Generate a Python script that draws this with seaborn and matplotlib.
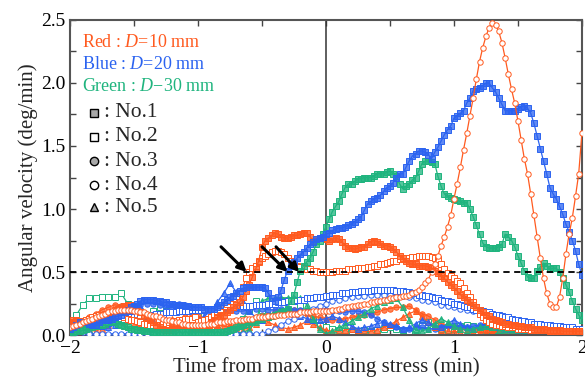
import numpy as np
import matplotlib
matplotlib.use("Agg")
import matplotlib.pyplot as plt
import seaborn as sns

sns.set_style("ticks")
plt.rcParams['font.family'] = ['Liberation Serif', 'DejaVu Serif']
plt.rcParams['mathtext.fontset'] = 'custom'
plt.rcParams['mathtext.rm'] = 'Liberation Serif'
plt.rcParams['mathtext.it'] = 'Liberation Serif:italic'
plt.rcParams['xtick.direction'] = 'in'
plt.rcParams['ytick.direction'] = 'in'

# time axis (min); fine grid for the tall curves, coarse grid for the low ones
t_fine = np.linspace(-2, 2, 161)
t_coarse = np.linspace(-2, 2, 81)

# ---- D = 10 mm (red) ----
red_no1 = [0.10, 0.12, 0.12, 0.11, 0.10, 0.09, 0.08, 0.08, 0.09, 0.10, 0.12, 0.14, 0.16, 0.18, 0.20, 0.21, 0.22, 0.23, 0.24, 0.24,
           0.22, 0.20, 0.18, 0.16, 0.14, 0.12, 0.10, 0.08, 0.06, 0.05, 0.04, 0.04, 0.05, 0.06, 0.07, 0.08, 0.08, 0.08, 0.07, 0.06,
           0.05, 0.05, 0.06, 0.08, 0.10, 0.12, 0.14, 0.15, 0.16, 0.18, 0.20, 0.22, 0.24, 0.26, 0.30, 0.35, 0.40, 0.46, 0.52, 0.59,
           0.70, 0.75, 0.77, 0.79, 0.81, 0.80, 0.78, 0.77, 0.77, 0.78, 0.79, 0.79, 0.80, 0.81, 0.81, 0.78, 0.75, 0.76, 0.77, 0.77,
           0.76, 0.75, 0.76, 0.77, 0.76, 0.74, 0.71, 0.69, 0.69, 0.68, 0.69, 0.70, 0.70, 0.72, 0.74, 0.75, 0.74, 0.72, 0.71, 0.71,
           0.70, 0.68, 0.66, 0.63, 0.61, 0.59, 0.57, 0.56, 0.56, 0.55, 0.55, 0.55, 0.54, 0.53, 0.51, 0.49, 0.47, 0.45, 0.42, 0.40,
           0.38, 0.35, 0.32, 0.30, 0.28, 0.26, 0.24, 0.22, 0.20, 0.18, 0.16, 0.15, 0.13, 0.12, 0.11, 0.10, 0.09, 0.09, 0.08, 0.08,
           0.07, 0.07, 0.06, 0.06, 0.06, 0.05, 0.05, 0.05, 0.05, 0.04, 0.04, 0.04, 0.04, 0.04, 0.03, 0.03, 0.03, 0.03, 0.03, 0.03,
           0.03]
red_no2 = [0.08, 0.08, 0.09, 0.10, 0.11, 0.12, 0.13, 0.14, 0.15, 0.16, 0.16, 0.17, 0.17, 0.17, 0.16, 0.16, 0.15, 0.14, 0.13, 0.12,
           0.12, 0.11, 0.10, 0.09, 0.09, 0.08, 0.08, 0.08, 0.08, 0.09, 0.09, 0.10, 0.11, 0.11, 0.12, 0.12, 0.13, 0.13, 0.13, 0.14,
           0.10, 0.11, 0.12, 0.13, 0.14, 0.16, 0.18, 0.21, 0.23, 0.25, 0.27, 0.29, 0.31, 0.33, 0.38, 0.45, 0.50, 0.53, 0.55, 0.58,
           0.61, 0.63, 0.64, 0.66, 0.67, 0.67, 0.66, 0.64, 0.61, 0.59, 0.57, 0.55, 0.54, 0.53, 0.52, 0.52, 0.51, 0.51, 0.50, 0.50,
           0.50, 0.50, 0.50, 0.51, 0.51, 0.51, 0.51, 0.52, 0.52, 0.52, 0.53, 0.53, 0.53, 0.54, 0.54, 0.55, 0.55, 0.56, 0.56, 0.57,
           0.58, 0.59, 0.59, 0.60, 0.60, 0.61, 0.61, 0.62, 0.62, 0.63, 0.63, 0.63, 0.63, 0.62, 0.61, 0.60, 0.56, 0.52, 0.49, 0.47,
           0.45, 0.43, 0.41, 0.37, 0.33, 0.30, 0.26, 0.22, 0.17, 0.14, 0.12, 0.10, 0.09, 0.08, 0.08, 0.07, 0.07, 0.06, 0.06, 0.06,
           0.05, 0.05, 0.05, 0.05, 0.04, 0.04, 0.04, 0.04, 0.04, 0.04, 0.03, 0.03, 0.03, 0.03, 0.03, 0.03, 0.03, 0.03, 0.03, 0.03,
           0.03]
red_no3 = [0.05, 0.07, 0.10, 0.14, 0.17, 0.20, 0.22, 0.24, 0.23, 0.20,
           0.16, 0.12, 0.09, 0.07, 0.06, 0.07, 0.09, 0.12, 0.14, 0.15,
           0.15, 0.13, 0.10, 0.08, 0.07, 0.06, 0.06, 0.08, 0.10, 0.13,
           0.15, 0.16, 0.18, 0.19, 0.20, 0.20, 0.19, 0.17, 0.15, 0.14,
           0.13, 0.12, 0.12, 0.13, 0.14, 0.15, 0.16, 0.17, 0.18, 0.20,
           0.21, 0.22, 0.22, 0.23, 0.20, 0.17, 0.15, 0.12, 0.09, 0.07,
           0.06, 0.05, 0.05, 0.04, 0.04, 0.04, 0.03, 0.03, 0.03, 0.03,
           0.03, 0.03, 0.02, 0.02, 0.02, 0.02, 0.02, 0.02, 0.02, 0.02,
           0.02]
red_no4 = [0.06, 0.07, 0.08, 0.09, 0.10, 0.11, 0.12, 0.13, 0.14, 0.15, 0.16, 0.17, 0.18, 0.19, 0.19, 0.20, 0.20, 0.20, 0.20, 0.20,
           0.19, 0.19, 0.18, 0.18, 0.17, 0.16, 0.15, 0.15, 0.14, 0.13, 0.12, 0.12, 0.11, 0.10, 0.10, 0.09, 0.09, 0.08, 0.08, 0.08,
           0.08, 0.08, 0.08, 0.09, 0.09, 0.09, 0.10, 0.10, 0.10, 0.11, 0.11, 0.11, 0.12, 0.12, 0.12, 0.13, 0.13, 0.13, 0.14, 0.14,
           0.14, 0.14, 0.15, 0.15, 0.15, 0.16, 0.16, 0.16, 0.17, 0.17, 0.17, 0.17, 0.18, 0.18, 0.18, 0.18, 0.19, 0.19, 0.19, 0.19,
           0.19, 0.19, 0.20, 0.20, 0.21, 0.21, 0.22, 0.22, 0.23, 0.23, 0.24, 0.24, 0.25, 0.25, 0.26, 0.26, 0.27, 0.27, 0.28, 0.28,
           0.29, 0.29, 0.30, 0.30, 0.31, 0.31, 0.32, 0.33, 0.34, 0.36, 0.38, 0.41, 0.44, 0.50, 0.56, 0.63, 0.71, 0.78, 0.86, 0.95,
           1.08, 1.20, 1.33, 1.47, 1.60, 1.74, 1.88, 2.03, 2.17, 2.28, 2.37, 2.44, 2.48, 2.46, 2.41, 2.32, 2.20, 2.07, 1.95, 1.84,
           1.70, 1.55, 1.40, 1.28, 1.12, 0.95, 0.78, 0.61, 0.45, 0.33, 0.25, 0.22, 0.22, 0.30, 0.45, 0.64, 0.80, 0.93, 1.10, 1.28,
           1.60]
red_no5 = [0.02, 0.03, 0.05, 0.04, 0.03, 0.05, 0.08, 0.11, 0.14, 0.12,
           0.09, 0.06, 0.04, 0.05, 0.07, 0.10, 0.13, 0.10, 0.07, 0.05,
           0.04, 0.03, 0.05, 0.08, 0.11, 0.08, 0.05, 0.04, 0.06, 0.09,
           0.12, 0.10, 0.08, 0.06, 0.05, 0.06, 0.08, 0.11, 0.09, 0.06,
           0.04, 0.03, 0.03, 0.04, 0.05, 0.04, 0.03, 0.03, 0.04, 0.06,
           0.08, 0.11, 0.14, 0.17, 0.19, 0.15, 0.10, 0.06, 0.04, 0.03,
           0.03, 0.02, 0.02, 0.02, 0.02, 0.02, 0.02, 0.02, 0.02, 0.02,
           0.01, 0.01, 0.01, 0.01, 0.01, 0.01, 0.01, 0.01, 0.01, 0.01,
           0.01]

# ---- D = 20 mm (blue) ----
blue_no1 = [0.05, 0.06, 0.08, 0.10, 0.10, 0.10, 0.09, 0.08, 0.08, 0.10, 0.12, 0.12, 0.12, 0.13, 0.14, 0.15, 0.16, 0.18, 0.20, 0.22,
            0.23, 0.25, 0.27, 0.28, 0.28, 0.28, 0.28, 0.27, 0.27, 0.26, 0.26, 0.25, 0.25, 0.24, 0.24, 0.24, 0.23, 0.23, 0.22, 0.22,
            0.22, 0.22, 0.21, 0.21, 0.21, 0.21, 0.22, 0.24, 0.26, 0.28, 0.30, 0.31, 0.33, 0.35, 0.37, 0.38, 0.38, 0.38, 0.38, 0.38,
            0.38, 0.37, 0.33, 0.29, 0.27, 0.30, 0.36, 0.44, 0.51, 0.55, 0.58, 0.61, 0.64, 0.66, 0.69, 0.72, 0.74, 0.76, 0.77, 0.78,
            0.80, 0.81, 0.83, 0.84, 0.85, 0.85, 0.86, 0.87, 0.88, 0.90, 0.92, 0.94, 0.99, 1.04, 1.06, 1.08, 1.09, 1.11, 1.14, 1.17,
            1.18, 1.21, 1.25, 1.28, 1.28, 1.33, 1.38, 1.42, 1.44, 1.46, 1.46, 1.45, 1.43, 1.40, 1.45, 1.49, 1.54, 1.59, 1.63, 1.66,
            1.72, 1.74, 1.76, 1.78, 1.84, 1.88, 1.94, 1.95, 1.96, 1.98, 2.00, 2.00, 1.96, 1.93, 1.88, 1.83, 1.78, 1.78, 1.78, 1.78,
            1.79, 1.81, 1.82, 1.80, 1.76, 1.68, 1.58, 1.48, 1.38, 1.28, 1.17, 1.12, 1.08, 1.02, 0.96, 0.88, 0.82, 0.75, 0.67, 0.56,
            0.48]
blue_no2 = [0.04, 0.05, 0.05, 0.06, 0.06, 0.07, 0.07, 0.08, 0.08, 0.09, 0.09, 0.10, 0.10, 0.11, 0.11, 0.12, 0.12, 0.13, 0.13, 0.14,
            0.14, 0.15, 0.15, 0.15, 0.16, 0.16, 0.16, 0.17, 0.17, 0.17, 0.18, 0.18, 0.18, 0.18, 0.19, 0.19, 0.19, 0.19, 0.20, 0.20,
            0.20, 0.20, 0.20, 0.21, 0.21, 0.21, 0.21, 0.21, 0.22, 0.22, 0.22, 0.22, 0.22, 0.23, 0.23, 0.23, 0.23, 0.23, 0.24, 0.24,
            0.24, 0.24, 0.25, 0.25, 0.25, 0.26, 0.26, 0.26, 0.27, 0.27, 0.27, 0.28, 0.28, 0.28, 0.29, 0.29, 0.29, 0.30, 0.30, 0.30,
            0.31, 0.31, 0.32, 0.32, 0.32, 0.33, 0.33, 0.33, 0.34, 0.34, 0.34, 0.35, 0.35, 0.35, 0.35, 0.36, 0.36, 0.36, 0.36, 0.36,
            0.36, 0.36, 0.35, 0.35, 0.35, 0.34, 0.34, 0.33, 0.33, 0.32, 0.32, 0.31, 0.31, 0.30, 0.29, 0.29, 0.28, 0.27, 0.27, 0.26,
            0.25, 0.25, 0.24, 0.23, 0.22, 0.22, 0.21, 0.20, 0.20, 0.19, 0.18, 0.18, 0.17, 0.16, 0.16, 0.15, 0.14, 0.14, 0.13, 0.12,
            0.12, 0.11, 0.11, 0.10, 0.10, 0.09, 0.09, 0.09, 0.08, 0.08, 0.08, 0.07, 0.07, 0.07, 0.06, 0.06, 0.06, 0.06, 0.05, 0.05,
            0.05]
blue_no3 = [0.03, 0.05, 0.08, 0.10, 0.12, 0.11, 0.09, 0.12, 0.16, 0.20,
            0.23, 0.24, 0.25, 0.25, 0.24, 0.22, 0.23, 0.25, 0.24, 0.21,
            0.19, 0.19, 0.20, 0.21, 0.21, 0.20, 0.19, 0.19, 0.20, 0.21,
            0.21, 0.20, 0.20, 0.21, 0.21, 0.20, 0.20, 0.19, 0.20, 0.20,
            0.20, 0.19, 0.19, 0.18, 0.19, 0.19, 0.18, 0.16, 0.13, 0.10,
            0.08, 0.06, 0.05, 0.05, 0.06, 0.06, 0.05, 0.05, 0.06, 0.07,
            0.07, 0.06, 0.06, 0.07, 0.08, 0.08, 0.07, 0.06, 0.06, 0.05,
            0.05, 0.05, 0.04, 0.04, 0.04, 0.04, 0.03, 0.03, 0.03, 0.03,
            0.03]
blue_no4 = [0.02, 0.02, 0.02, 0.01, 0.01, 0.01, 0.01, 0.01, 0.01, 0.01,
            0.01, 0.01, 0.01, 0.01, 0.01, 0.01, 0.01, 0.01, 0.01, 0.01,
            0.01, 0.01, 0.01, 0.01, 0.01, 0.01, 0.01, 0.01, 0.01, 0.01,
            0.01, 0.03, 0.05, 0.08, 0.11, 0.13, 0.16, 0.18, 0.21, 0.23,
            0.25, 0.27, 0.28, 0.29, 0.30, 0.31, 0.31, 0.32, 0.32, 0.32,
            0.32, 0.31, 0.31, 0.30, 0.29, 0.28, 0.27, 0.26, 0.24, 0.23,
            0.22, 0.21, 0.20, 0.19, 0.18, 0.16, 0.15, 0.14, 0.13, 0.12,
            0.11, 0.10, 0.09, 0.08, 0.08, 0.07, 0.06, 0.06, 0.05, 0.05,
            0.04]
blue_no5 = [0.02, 0.04, 0.06, 0.08, 0.08, 0.07, 0.06, 0.08, 0.11, 0.15,
            0.19, 0.23, 0.17, 0.11, 0.06, 0.04, 0.05, 0.07, 0.09, 0.10,
            0.12, 0.15, 0.19, 0.26, 0.33, 0.41, 0.34, 0.26, 0.19, 0.14,
            0.12, 0.14, 0.16, 0.18, 0.18, 0.17, 0.15, 0.13, 0.12, 0.12,
            0.13, 0.15, 0.13, 0.10, 0.07, 0.05, 0.06, 0.07, 0.09, 0.10,
            0.09, 0.07, 0.05, 0.06, 0.09, 0.12, 0.10, 0.07, 0.06, 0.09,
            0.12, 0.09, 0.06, 0.05, 0.07, 0.09, 0.08, 0.06, 0.05, 0.05,
            0.04, 0.04, 0.05, 0.04, 0.03, 0.03, 0.03, 0.02, 0.02, 0.02,
            0.02]

# ---- D = 30 mm (green) ----
green_no1 = [0.02, 0.02, 0.03, 0.03, 0.04, 0.05, 0.06, 0.06, 0.07, 0.08, 0.08, 0.09, 0.10, 0.10, 0.10, 0.09, 0.08, 0.07, 0.06, 0.05,
             0.05, 0.04, 0.04, 0.03, 0.03, 0.03, 0.02, 0.02, 0.02, 0.02, 0.02, 0.02, 0.02, 0.02, 0.02, 0.02, 0.02, 0.02, 0.02, 0.02,
             0.02, 0.02, 0.02, 0.02, 0.02, 0.02, 0.02, 0.02, 0.02, 0.03, 0.04, 0.05, 0.06, 0.07, 0.08, 0.09, 0.10, 0.11, 0.12, 0.13,
             0.13, 0.14, 0.14, 0.15, 0.16, 0.17, 0.18, 0.19, 0.21, 0.27, 0.32, 0.42, 0.51, 0.55, 0.58, 0.61, 0.66, 0.72, 0.75, 0.80,
             0.86, 0.92, 0.98, 1.02, 1.06, 1.12, 1.17, 1.20, 1.20, 1.22, 1.24, 1.24, 1.25, 1.25, 1.25, 1.26, 1.28, 1.28, 1.28, 1.29,
             1.30, 1.28, 1.26, 1.20, 1.16, 1.18, 1.20, 1.23, 1.25, 1.30, 1.36, 1.38, 1.38, 1.37, 1.36, 1.26, 1.18, 1.12, 1.10, 1.09,
             1.08, 1.07, 1.06, 1.05, 1.05, 1.00, 0.94, 0.87, 0.80, 0.73, 0.70, 0.69, 0.69, 0.69, 0.70, 0.72, 0.80, 0.78, 0.75, 0.70,
             0.63, 0.57, 0.51, 0.46, 0.45, 0.45, 0.51, 0.54, 0.57, 0.55, 0.52, 0.53, 0.53, 0.50, 0.45, 0.40, 0.34, 0.27, 0.21, 0.16,
             0.12]
green_no2 = [0.08, 0.16, 0.24, 0.29, 0.29, 0.30, 0.30, 0.30, 0.33, 0.25,
             0.14, 0.06, 0.12, 0.19, 0.22, 0.24, 0.22, 0.20, 0.22, 0.21,
             0.17, 0.12, 0.07, 0.04, 0.03, 0.05, 0.08, 0.13, 0.20, 0.27,
             0.20, 0.25, 0.27, 0.28, 0.28, 0.27, 0.24, 0.18, 0.12, 0.08,
             0.06, 0.05, 0.04, 0.03, 0.03, 0.03, 0.04, 0.03, 0.04, 0.05,
             0.06, 0.05, 0.04, 0.03, 0.05, 0.08, 0.10, 0.07, 0.05, 0.04,
             0.05, 0.07, 0.08, 0.07, 0.05, 0.04, 0.03, 0.03, 0.04, 0.03,
             0.03, 0.02, 0.02, 0.02, 0.02, 0.02, 0.02, 0.02, 0.02, 0.02,
             0.02]
green_no5 = [0.02, 0.02, 0.03, 0.05, 0.08, 0.12, 0.16, 0.20, 0.23, 0.20,
             0.15, 0.10, 0.06, 0.03, 0.02, 0.02, 0.02, 0.02, 0.02, 0.02,
             0.02, 0.02, 0.02, 0.02, 0.02, 0.02, 0.02, 0.02, 0.04, 0.10,
             0.27, 0.29, 0.29, 0.29, 0.29, 0.29, 0.29, 0.24, 0.13, 0.05,
             0.01, 0.03, 0.06, 0.08, 0.11, 0.14, 0.17, 0.21, 0.23, 0.26,
             0.28, 0.29, 0.22, 0.12, 0.04, 0.03, 0.05, 0.09, 0.13, 0.10,
             0.07, 0.05, 0.04, 0.05, 0.06, 0.07, 0.06, 0.04, 0.03, 0.03,
             0.02, 0.02, 0.02, 0.02, 0.02, 0.01, 0.01, 0.01, 0.01, 0.01,
             0.01]

# arrows marking where the curves cross 0.5 deg/min: (tip time, tail time, tail value)
arrow_tips = [(-0.62, -0.82, 0.70), (-0.30, -0.50, 0.70), (-0.21, -0.39, 0.70)]

RED, BLUE, GREEN = '#FF5A1F', '#2B63F0', '#1FB47E'


def fill(c, a=0.75):
    r, g, b = matplotlib.colors.to_rgb(c)
    return (r, g, b, a)


# (t, values, colour, marker, filled, zorder) - low curves first, tall ones on top
series = [
    (t_coarse, green_no2, GREEN, 's', False, 2),
    (t_coarse, red_no3, RED, 'o', True, 2),
    (t_coarse, blue_no3, BLUE, 'o', True, 2),
    (t_coarse, red_no5, RED, '^', True, 2),
    (t_coarse, blue_no5, BLUE, '^', True, 2),
    (t_coarse, green_no5, GREEN, '^', True, 2),
    (t_coarse, blue_no4, BLUE, 'o', False, 3),
    (t_fine, blue_no2, BLUE, 's', False, 3),
    (t_fine, red_no2, RED, 's', False, 4),
    (t_fine, red_no1, RED, 's', True, 4),
    (t_fine, green_no1, GREEN, 's', True, 5),
    (t_fine, blue_no1, BLUE, 's', True, 6),
    (t_fine, red_no4, RED, 'o', False, 7),
]

fig = plt.figure(figsize=(5.85, 3.83), dpi=100)
ax = fig.add_axes([0.1197, 0.1253, 0.875, 0.8225])

for t, v, c, m, filled, z in series:
    sns.lineplot(x=t, y=v, ax=ax, color=c, linewidth=0.9, marker=m,
                 markersize=3.9, markeredgewidth=0.7, markeredgecolor=c,
                 markerfacecolor=fill(c) if filled else 'white', zorder=z)

ax.axvline(0, color='#333333', lw=1.1, zorder=1)
ax.axhline(0.5, color='black', lw=1.3, ls=(0, (3.5, 2.5)), zorder=8)

for tip, tail_t, tail_v in arrow_tips:
    ax.annotate('', xy=(tip, 0.5), xytext=(tail_t, tail_v),
                arrowprops=dict(arrowstyle='-|>', color='black', lw=2.2,
                                mutation_scale=13, shrinkA=0, shrinkB=0),
                zorder=9)

ax.set_xlim(-2, 2)
ax.set_ylim(0, 2.5)
ax.set_xticks([-2, -1, 0, 1, 2])
ax.set_xticklabels(['\u22122', '\u22121', '0', '1', '2'])
ax.set_xticks(np.arange(-2, 2.01, 0.5), minor=True)
ax.set_yticks(np.arange(0, 2.51, 0.5))
ax.set_yticklabels(['0.0', '0.5', '1.0', '1.5', '2.0', '2.5'])
ax.set_yticks(np.arange(0, 2.51, 0.25), minor=True)
ax.tick_params(which='both', direction='in', top=True, right=True,
               colors='#444444', labelcolor='black', labelsize=14)
ax.tick_params(which='major', length=4, width=1)
ax.tick_params(which='minor', length=4, width=1)
for s in ax.spines.values():
    s.set_color('#555555')
    s.set_linewidth(1.5)

ax.set_xlabel('Time from max. loading stress (min)', fontsize=15, labelpad=0)
ax.set_ylabel('Angular velocity (deg/min)', fontsize=15, labelpad=2)

# colour key
ax.text(0.023, 0.930, 'Red : $D$=10 mm', color=RED, fontsize=13,
        transform=ax.transAxes, va='center')
ax.text(0.023, 0.860, 'Blue : $D$=20 mm', color=BLUE, fontsize=13,
        transform=ax.transAxes, va='center')
ax.text(0.023, 0.790, 'Green : $D$\u221230 mm', color=GREEN, fontsize=13,
        transform=ax.transAxes, va='center')

# marker key
key = [('s', True, 'No.1'), ('s', False, 'No.2'), ('o', True, 'No.3'),
       ('o', False, 'No.4'), ('^', True, 'No.5')]
key_y = [0.705, 0.629, 0.552, 0.476, 0.406]
for (m, filled, lab), y in zip(key, key_y):
    ax.plot([0.047], [y], marker=m, markersize=6, markeredgewidth=1,
            markeredgecolor='black', markerfacecolor='#A8A8A8' if filled else 'white',
            transform=ax.transAxes, zorder=10)
    ax.text(0.066, y, ': ' + lab, fontsize=15.5, transform=ax.transAxes,
            va='center', zorder=10)

fig.savefig('out.png', dpi=100)
